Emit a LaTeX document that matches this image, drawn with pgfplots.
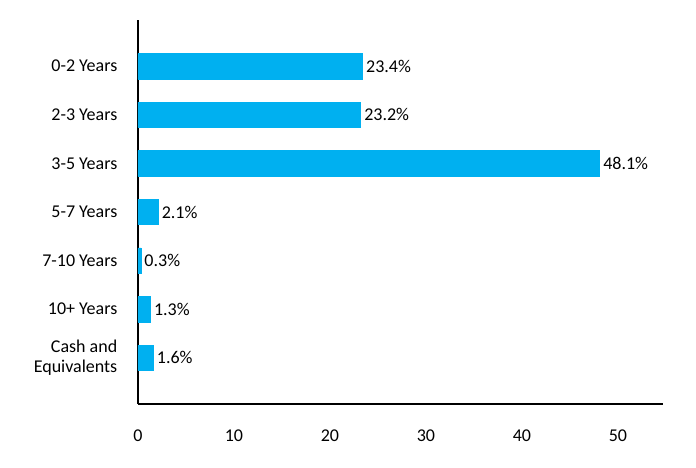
\documentclass[border=0pt]{standalone}
\usepackage{pgfplots}
\pgfplotsset{compat=1.18}
\usepackage{fontspec}
\setmainfont{Carlito}
\definecolor{barblue}{HTML}{00B0F0}
\begin{document}
\begin{tikzpicture}[x=0.75pt,y=0.75pt]
\begin{axis}[
  scale only axis,
  width=393.75pt, height=288pt,
  xbar, bar width=19pt,
  xmin=0, xmax=54.7,
  ymin=-0.95, ymax=6.95,
  axis x line=bottom, axis y line=left,
  axis line style={-, line width=1.5pt, black},
  xtick={0,10,20,30,40,50},
  ytick={0,1,2,3,4,5,6},
  yticklabels={{Cash and\\Equivalents},10+ Years,7-10 Years,5-7 Years,3-5 Years,2-3 Years,0-2 Years},
  major tick length=0pt,
  tick label style={font=\fontsize{13.5}{15}\selectfont, black},
  yticklabel style={align=right, xshift=-12pt},
  xticklabel style={yshift=-16pt},
  /pgf/number format/assume math mode=true,
  nodes near coords={\pgfmathprintnumber[fixed,zerofill,precision=1]{\pgfplotspointmeta}\%},
  nodes near coords style={font=\fontsize{13.5}{15}\selectfont, black, inner sep=2.5pt},
  clip=false,
]
\addplot[fill=barblue, draw=barblue] coordinates {
 (1.6,0) (1.3,1) (0.3,2) (2.1,3) (48.1,4) (23.2,5) (23.4,6)
};
\end{axis}
\path (current axis.south west) ++(-103.5pt,-48pt) coordinate (bl);
\path (current axis.north east) ++(24.75pt,15pt) coordinate (tr);
\useasboundingbox (bl) rectangle (tr);
\end{tikzpicture}
\end{document}
